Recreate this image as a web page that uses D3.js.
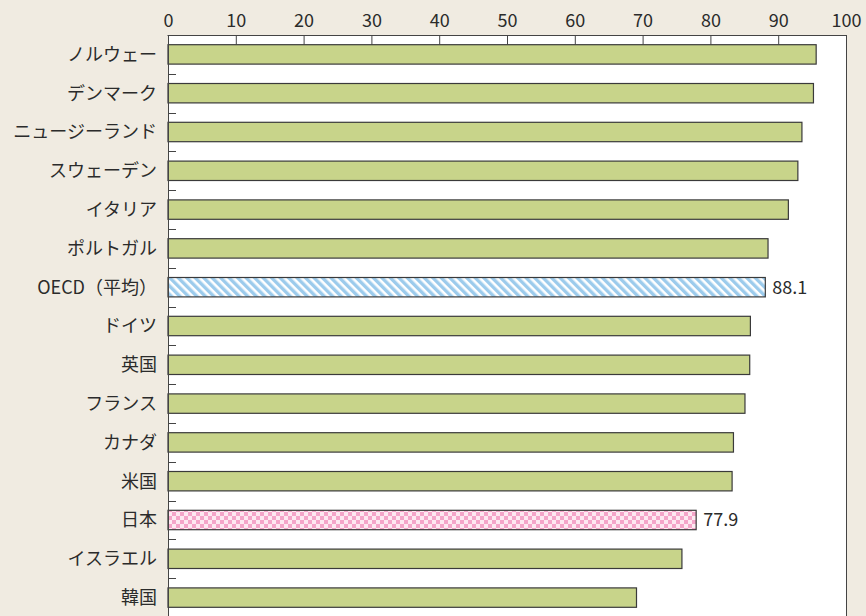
<!DOCTYPE html>
<html><head><meta charset="utf-8">
<script src="https://cdn.jsdelivr.net/npm/d3@7"></script>
<style>
html,body{margin:0;padding:0;background:#f0ebe1;}
svg{display:block;}
text{font-family:"Noto Sans CJK JP","Noto Sans",sans-serif;fill:#2b2b2b;}
</style></head>
<body>
<svg id="c" width="866" height="616"></svg>
<script>
const categories = ["ノルウェー","デンマーク","ニュージーランド","スウェーデン","イタリア","ポルトガル","OECD（平均）","ドイツ","英国","フランス","カナダ","米国","日本","イスラエル","韓国"];
const values = [95.6, 95.2, 93.5, 92.9, 91.5, 88.5, 88.1, 85.9, 85.8, 85.1, 83.4, 83.2, 77.9, 75.8, 69.1];
const barKinds = ["plain","plain","plain","plain","plain","plain","oecd","plain","plain","plain","plain","plain","japan","plain","plain"];
const labelled = ["OECD（平均）","日本"];
const xTicks = [0,10,20,30,40,50,60,70,80,90,100];

(function(){
const svg = d3.select("#c");
const pLeft = 168, pRight = 846, pTop = 35, pBottom = 617;

const x = d3.scaleLinear().domain([0,100]).range([pLeft,pRight]);
const y = d3.scaleBand().domain(categories).range([pTop,pBottom]).paddingInner(0.5).paddingOuter(0.25);

const defs = svg.append("defs");
const stripes = defs.append("pattern").attr("id","stripes").attr("patternUnits","userSpaceOnUse")
  .attr("width",6).attr("height",6).attr("patternTransform","rotate(-45)");
stripes.append("rect").attr("width",6).attr("height",6).attr("fill","#ffffff");
stripes.append("rect").attr("width",3.4).attr("height",6).attr("fill","#9ccbec");

const checks = defs.append("pattern").attr("id","checks").attr("patternUnits","userSpaceOnUse")
  .attr("width",8).attr("height",8).attr("x",pLeft).attr("y",0);
checks.append("rect").attr("width",8).attr("height",8).attr("fill","#f4a5c9");
checks.append("rect").attr("x",0).attr("y",0).attr("width",4).attr("height",4).attr("fill","#fde8f1");
checks.append("rect").attr("x",4).attr("y",4).attr("width",4).attr("height",4).attr("fill","#fde8f1");

svg.append("rect").attr("x",pLeft).attr("y",pTop).attr("width",pRight-pLeft).attr("height",pBottom-pTop+10)
  .attr("fill","#ffffff");

const step = y.step();
svg.append("g").selectAll("line").data(categories.slice(1)).join("line")
  .attr("x1",pLeft).attr("x2",pLeft+8)
  .attr("y1",d=>Math.round(y(d)-step*0.25)+0.5).attr("y2",d=>Math.round(y(d)-step*0.25)+0.5)
  .attr("stroke","#444").attr("stroke-width",1);

const fills = {plain:"#c8d48a", oecd:"url(#stripes)", japan:"url(#checks)"};
svg.append("g").selectAll("rect").data(categories).join("rect")
  .attr("x",x(0)).attr("y",d=>y(d))
  .attr("width",(d,i)=>x(values[i])-x(0)).attr("height",y.bandwidth())
  .attr("fill",(d,i)=>fills[barKinds[i]])
  .attr("stroke","#3a3a3a").attr("stroke-width",1.2);

svg.append("g").selectAll("text").data(categories.filter(c=>labelled.includes(c))).join("text")
  .attr("x",d=>x(values[categories.indexOf(d)])+7)
  .attr("y",d=>y(d)+y.bandwidth()/2)
  .attr("dy","0.36em").attr("font-size",18).text(d=>values[categories.indexOf(d)].toFixed(1));

const ax = svg.append("g").attr("transform",`translate(0,${pTop})`)
  .call(d3.axisTop(x).tickValues(xTicks).tickSize(-10).tickSizeOuter(0).tickPadding(8).tickFormat(d3.format("d")));
ax.select(".domain").remove();
ax.selectAll(".tick line").attr("stroke","#444");
ax.selectAll(".tick text").attr("font-size",18).attr("fill","#2b2b2b").style("font-family","'Noto Sans CJK JP',sans-serif");

svg.append("line").attr("x1",pLeft-0.5).attr("x2",pRight+0.5).attr("y1",pTop+0.5).attr("y2",pTop+0.5).attr("stroke","#444");
svg.append("line").attr("x1",pLeft+0.5).attr("x2",pLeft+0.5).attr("y1",pTop).attr("y2",616).attr("stroke","#444");
svg.append("line").attr("x1",pRight+0.5).attr("x2",pRight+0.5).attr("y1",pTop).attr("y2",616).attr("stroke","#444");

svg.append("g").selectAll("text").data(categories).join("text")
  .attr("x",157).attr("y",d=>y(d)+y.bandwidth()/2).attr("dy","0.36em")
  .attr("text-anchor","end").attr("font-size",18).text(d=>d);
})();
</script>
</body></html>
